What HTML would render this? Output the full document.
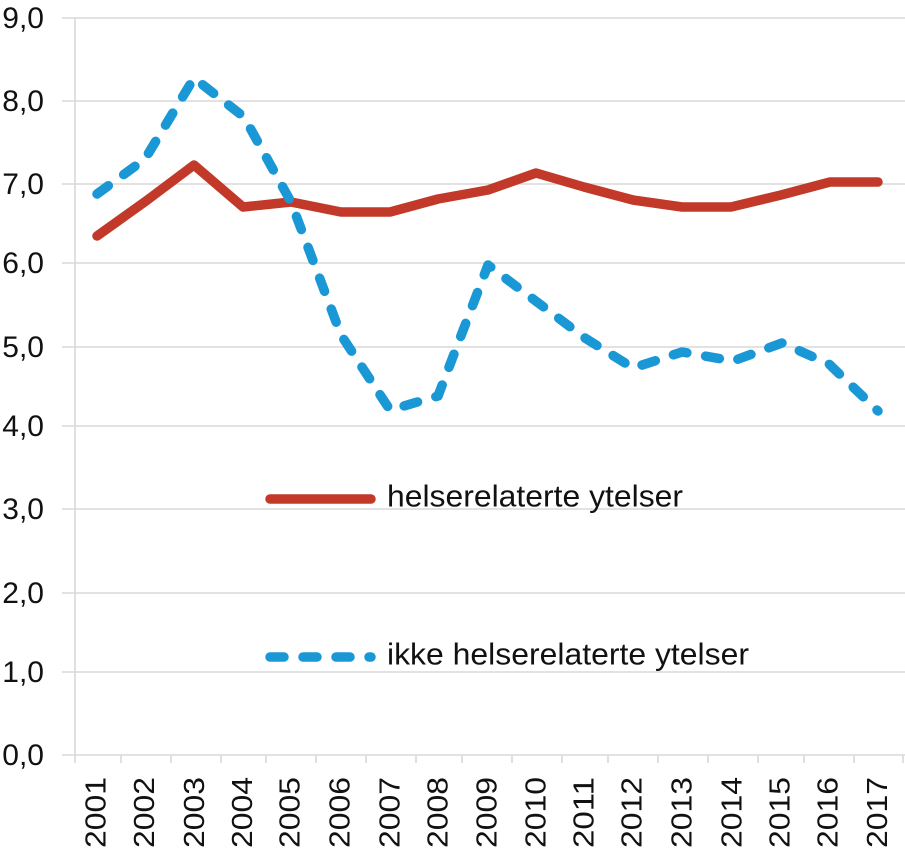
<!DOCTYPE html>
<html>
<head>
<meta charset="utf-8">
<style>
html,body{margin:0;padding:0;background:#fff;}
svg{display:block;}
text{font-family:"Liberation Sans",Arial,sans-serif;fill:#111;}
</style>
</head>
<body>
<svg width="905" height="849" viewBox="0 0 905 849" xmlns="http://www.w3.org/2000/svg">
  <rect width="905" height="849" fill="#fff"/>
  <g stroke="#d9d9d9" stroke-width="1.6">
    <line x1="62" y1="18" x2="905" y2="18"/>
    <line x1="62" y1="101" x2="905" y2="101"/>
    <line x1="62" y1="184" x2="905" y2="184"/>
    <line x1="62" y1="263" x2="905" y2="263"/>
    <line x1="62" y1="347" x2="905" y2="347"/>
    <line x1="62" y1="426" x2="905" y2="426"/>
    <line x1="62" y1="509" x2="905" y2="509"/>
    <line x1="62" y1="593" x2="905" y2="593"/>
    <line x1="62" y1="672" x2="905" y2="672"/>
    <line x1="62" y1="755" x2="905" y2="755"/>
    <line x1="75" y1="18" x2="75" y2="763"/>
    <line x1="121" y1="755" x2="121" y2="763"/>
    <line x1="171" y1="755" x2="171" y2="763"/>
    <line x1="221" y1="755" x2="221" y2="763"/>
    <line x1="266" y1="755" x2="266" y2="763"/>
    <line x1="316" y1="755" x2="316" y2="763"/>
    <line x1="366" y1="755" x2="366" y2="763"/>
    <line x1="416" y1="755" x2="416" y2="763"/>
    <line x1="462" y1="755" x2="462" y2="763"/>
    <line x1="512" y1="755" x2="512" y2="763"/>
    <line x1="562" y1="755" x2="562" y2="763"/>
    <line x1="608" y1="755" x2="608" y2="763"/>
    <line x1="658" y1="755" x2="658" y2="763"/>
    <line x1="708" y1="755" x2="708" y2="763"/>
    <line x1="758" y1="755" x2="758" y2="763"/>
    <line x1="804" y1="755" x2="804" y2="763"/>
    <line x1="854" y1="755" x2="854" y2="763"/>
    <line x1="903" y1="755" x2="903" y2="763"/>
  </g>

  <g font-size="30" text-anchor="end">
    <text x="44" y="28">9,0</text>
    <text x="44" y="111">8,0</text>
    <text x="44" y="194">7,0</text>
    <text x="44" y="273">6,0</text>
    <text x="44" y="357">5,0</text>
    <text x="44" y="436">4,0</text>
    <text x="44" y="519">3,0</text>
    <text x="44" y="603">2,0</text>
    <text x="44" y="682">1,0</text>
    <text x="44" y="765">0,0</text>
  </g>

  <g font-size="29" text-anchor="end">
    <text transform="translate(105.5,777) rotate(-90)" textLength="71" lengthAdjust="spacingAndGlyphs">2001</text>
    <text transform="translate(154,777) rotate(-90)" textLength="71" lengthAdjust="spacingAndGlyphs">2002</text>
    <text transform="translate(204,777) rotate(-90)" textLength="71" lengthAdjust="spacingAndGlyphs">2003</text>
    <text transform="translate(252,777) rotate(-90)" textLength="71" lengthAdjust="spacingAndGlyphs">2004</text>
    <text transform="translate(299.5,777) rotate(-90)" textLength="71" lengthAdjust="spacingAndGlyphs">2005</text>
    <text transform="translate(349.5,777) rotate(-90)" textLength="71" lengthAdjust="spacingAndGlyphs">2006</text>
    <text transform="translate(399.5,777) rotate(-90)" textLength="71" lengthAdjust="spacingAndGlyphs">2007</text>
    <text transform="translate(447.5,777) rotate(-90)" textLength="71" lengthAdjust="spacingAndGlyphs">2008</text>
    <text transform="translate(496.5,777) rotate(-90)" textLength="71" lengthAdjust="spacingAndGlyphs">2009</text>
    <text transform="translate(545.5,777) rotate(-90)" textLength="71" lengthAdjust="spacingAndGlyphs">2010</text>
    <text transform="translate(593.5,777) rotate(-90)" textLength="71" lengthAdjust="spacingAndGlyphs">2011</text>
    <text transform="translate(641.5,777) rotate(-90)" textLength="71" lengthAdjust="spacingAndGlyphs">2012</text>
    <text transform="translate(691.5,777) rotate(-90)" textLength="71" lengthAdjust="spacingAndGlyphs">2013</text>
    <text transform="translate(741.5,777) rotate(-90)" textLength="71" lengthAdjust="spacingAndGlyphs">2014</text>
    <text transform="translate(789.5,777) rotate(-90)" textLength="71" lengthAdjust="spacingAndGlyphs">2015</text>
    <text transform="translate(837.5,777) rotate(-90)" textLength="71" lengthAdjust="spacingAndGlyphs">2016</text>
    <text transform="translate(887,777) rotate(-90)" textLength="71" lengthAdjust="spacingAndGlyphs">2017</text>
  </g>

  <polyline fill="none" stroke="#c2392a" stroke-width="9.5" stroke-linejoin="round" stroke-linecap="round"
    points="97,236 146,201 194,165 243,207 291,202 341,212 390,212 438,199 488,190 536,173 584,187 633,200 682,207 731,207 781,195 830,182 878,182"/>

  <polyline fill="none" stroke="#1a97d5" stroke-width="9.5" stroke-linejoin="round" stroke-linecap="round"
    stroke-dasharray="14 19"
    points="97,194 145,159 194,78 244,117 291,202 341,335 390,410 438,396 488,265 537,302 585,338 633,368 682,352 733,361 782,343 829,364 878,411"/>

  <line x1="270" y1="499" x2="371" y2="499" stroke="#c2392a" stroke-width="9.5" stroke-linecap="round"/>
  <text x="387" y="506.5" font-size="30.5" textLength="296" lengthAdjust="spacingAndGlyphs">helserelaterte ytelser</text>

  <line x1="270" y1="657" x2="371" y2="657" stroke="#1a97d5" stroke-width="9.5" stroke-linecap="round" stroke-dasharray="14 19"/>
  <text x="387" y="664.5" font-size="30.5" textLength="362" lengthAdjust="spacingAndGlyphs">ikke helserelaterte ytelser</text>
</svg>
</body>
</html>
